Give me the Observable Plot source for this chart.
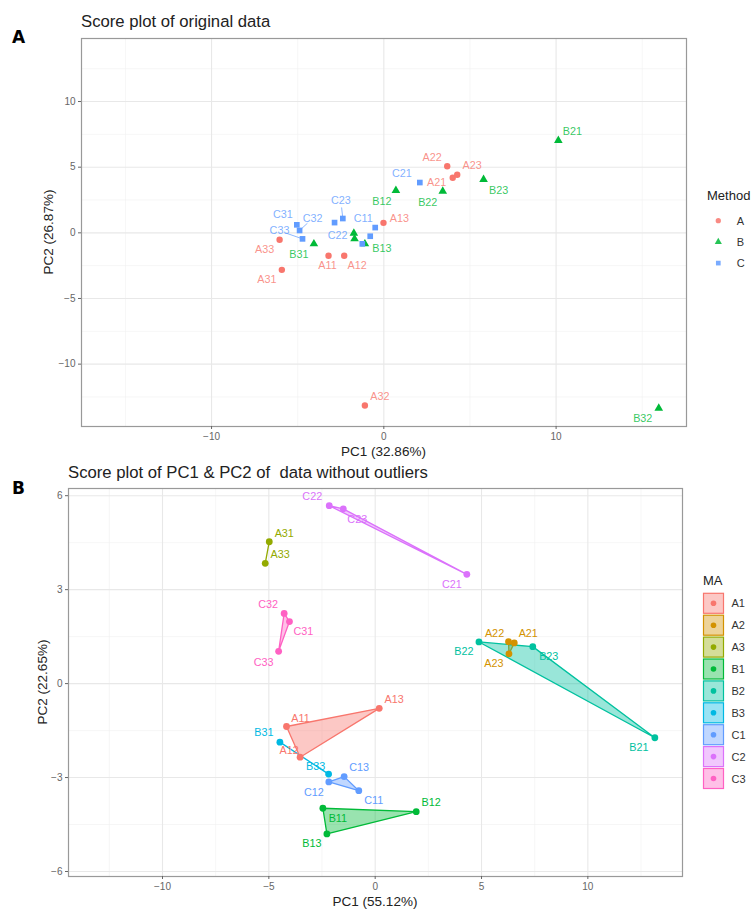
<!DOCTYPE html>
<html><head><meta charset="utf-8">
<script src="https://cdn.jsdelivr.net/npm/d3@7"></script>
<script src="https://cdn.jsdelivr.net/npm/@observablehq/plot@0.6"></script>
<style>
body{margin:0;background:#fff;}
#root{position:relative;width:755px;height:910px;overflow:hidden;background:#fff;}
#root > svg{position:absolute;left:0;}
</style></head><body><div id="root"></div>
<script>
// ---------- Panel A data (original data) ----------
const namesA = ["A11","A12","A13","A21","A22","A23","A31","A32","A33",
                "B11","B12","B13","B21","B22","B23","B31","B32","B33",
                "C11","C12","C13","C21","C22","C23","C31","C32","C33"];
const pc1A = [-3.21,-2.30,-0.02, 4.00, 3.68, 4.26,-5.92,-1.10,-6.05,
              -1.74, 0.70,-1.10,10.13, 3.42, 5.79,-4.06,15.96,-1.70,
              -0.50,-0.79,-1.25, 2.09,-2.86,-2.38,-5.05,-4.89,-4.72];
const pc2A = [-1.75,-1.75, 0.76, 4.19, 5.07, 4.42,-2.82,-13.15,-0.53,
              -0.03, 3.22,-0.84, 7.03, 3.17, 4.06,-0.84,-13.36,-0.46,
               0.40,-0.26,-0.84, 3.83, 0.78, 1.09, 0.61, 0.18,-0.46];
const methods = ["A","B","C"];
const methodColors = ["#F8766D","#00BA38","#619CFF"];
const methodSymbols = ["circle","triangle","square"];
const majorXA = [-10,0,10], minorXA = [-15,-5,5,15];
const majorYA = [-10,-5,0,5,10], minorYA = [-12.5,-7.5,-2.5,2.5,7.5,12.5];

// ---------- Panel B data (without outliers) ----------
const namesB = ["A11","A12","A13","A21","A22","A23","A31","A33",
                "B11","B12","B13","B21","B22","B23","B31","B33",
                "C11","C12","C13","C21","C22","C23","C31","C32","C33"];
const pc1B = [-4.17,-3.53, 0.19, 6.54, 6.27, 6.29,-4.98,-5.17,
              -2.46, 1.93,-2.27,13.15, 4.88, 7.41,-4.48,-2.19,
              -0.77,-2.18,-1.46, 4.31,-2.16,-1.50,-4.03,-4.28,-4.54];
const pc2B = [-1.37,-2.35,-0.79, 1.30, 1.34, 0.95, 4.53, 3.84,
              -3.98,-4.09,-4.80,-1.73, 1.33, 1.18,-1.87,-2.89,
              -3.42,-3.14,-2.97, 3.49, 5.68, 5.58, 1.98, 2.24, 1.03];
const maGroups = ["A1","A2","A3","B1","B2","B3","C1","C2","C3"];
const maColors = ["#F8766D","#D39200","#93AA00","#00BA38","#00C19F","#00B9E3","#619CFF","#DB72FB","#FF61C3"];
const majorXB = [-10,-5,0,5,10], minorXB = [-12.5,-7.5,-2.5,2.5,7.5,12.5];
const majorYB = [-6,-3,0,3,6], minorYB = [-4.5,-1.5,1.5,4.5];

// ---------- label placement (pixel nudges, like ggrepel) ----------
const nudgeA = {A11:[-1,10],A12:[13,10],A13:[16,-4],A21:[-16,5],A22:[-15,-9],A23:[15,-9],
  A31:[-15,10],A32:[15,-9],A33:[-15,10],B12:[-14,11],B13:[17,5],B21:[14,-9],B22:[-15,11],
  B23:[15,11],B31:[-15,11],B32:[-16,10],C11:[-12,-9],C21:[-18,-9],C22:[3,13],C23:[-2,-18],
  C31:[-14,-10],C32:[13,-12],C33:[-23,-8]};
const connectA = ["C23","C32","C33"];
const nudgeB = {A11:[14,-8],A12:[-11,-7],A13:[15,-9],A21:[14,-9],A22:[-14,-8],A23:[-15,10],
  A31:[15,-8],A33:[15,-9],B11:[15,10],B12:[15,-9],B13:[-15,10],B21:[-16,10],B22:[-15,10],
  B23:[16,10],B31:[-16,-10],B33:[-13,-8],C11:[15,10],C12:[-15,11],C13:[15,-9],C21:[-15,10],
  C22:[-17,-9],C23:[14,11],C31:[14,10],C32:[-16,-9],C33:[-15,11]};

const FONT = '"Liberation Sans", Arial, Helvetica, sans-serif';
const root = document.getElementById("root");
const gridStyle = (w,c)=>({stroke:c, strokeOpacity:1, strokeWidth:w});

// ---------- Panel A ----------
const xDomA=[-17.55,17.57], yDomA=[-14.75,14.8];
const WA=755, mLA=81, mRA=69, mTA=38, mBA=14, HA=440;
const kxA=(WA-mLA-mRA)/(xDomA[1]-xDomA[0]);
const kyA=(HA-mTA-mBA)/(yDomA[1]-yDomA[0]);
const dataA = namesA.map((n,i)=>({name:n, method:n[0], x:pc1A[i], y:pc2A[i]}));
const labA = dataA.filter(d=>nudgeA[d.name]).map(d=>{
  const [dx,dy]=nudgeA[d.name];
  const len=Math.hypot(dx,dy), f=Math.max(0,(len-7)/len);
  return {...d, lx:d.x+dx/kxA, ly:d.y-dy/kyA, cx:d.x+dx*f/kxA, cy:d.y-dy*f/kyA};
});
const linksA = labA.filter(d=>connectA.includes(d.name));

const plotA = Plot.plot({
  width:WA, height:HA, marginLeft:mLA, marginRight:mRA, marginTop:mTA, marginBottom:mBA,
  style:{background:"transparent", fontFamily:FONT, fontSize:"10px", overflow:"visible"},
  x:{domain:xDomA}, y:{domain:yDomA},
  color:{domain:methods, range:methodColors},
  symbol:{domain:methods, range:methodSymbols},
  marks:[
    Plot.gridX(minorXA, gridStyle(0.6,"#f0f0f0")),
    Plot.gridY(minorYA, gridStyle(0.6,"#f0f0f0")),
    Plot.gridX(majorXA, gridStyle(1.1,"#e8e8e8")),
    Plot.gridY(majorYA, gridStyle(1.1,"#e8e8e8")),
    Plot.frame({stroke:"#999", strokeWidth:1.2}),
    Plot.axisX(majorXA,{label:null, tickSize:3, tickPadding:3, color:"#666", fontSize:10}),
    Plot.axisY(majorYA,{label:null, tickSize:3, tickPadding:3, color:"#666", fontSize:10}),
    Plot.link(linksA,{x1:"x",y1:"y",x2:"cx",y2:"cy",stroke:"method",strokeWidth:0.9,strokeOpacity:0.8}),
    Plot.dot(dataA,{x:"x",y:"y",fill:"method",symbol:"method",r:3.2}),
    Plot.text(labA,{x:"lx",y:"ly",text:"name",fill:"method",fillOpacity:0.8,fontSize:10.8})
  ]
});
plotA.style.top="0px";
root.appendChild(plotA);

// ---------- Panel B ----------
const xDomB=[-14.42,14.45], yDomB=[-6.16,6.23];
const WB=755, mLB=68, mRB=73, mTB=48, mBB=34, HB=470;
const kxB=(WB-mLB-mRB)/(xDomB[1]-xDomB[0]);
const kyB=(HB-mTB-mBB)/(yDomB[1]-yDomB[0]);
const dataB = namesB.map((n,i)=>({name:n, ma:n.slice(0,2), x:pc1B[i], y:pc2B[i]}));
const labB = dataB.filter(d=>nudgeB[d.name]).map(d=>{
  const [dx,dy]=nudgeB[d.name];
  return {...d, lx:d.x+dx/kxB, ly:d.y-dy/kyB};
});
const plotB = Plot.plot({
  width:WB, height:HB, marginLeft:mLB, marginRight:mRB, marginTop:mTB, marginBottom:mBB,
  style:{background:"transparent", fontFamily:FONT, fontSize:"10px", overflow:"visible"},
  x:{domain:xDomB}, y:{domain:yDomB},
  color:{domain:maGroups, range:maColors},
  marks:[
    Plot.gridX(minorXB, gridStyle(0.6,"#f0f0f0")),
    Plot.gridY(minorYB, gridStyle(0.6,"#f0f0f0")),
    Plot.gridX(majorXB, gridStyle(1.1,"#e8e8e8")),
    Plot.gridY(majorYB, gridStyle(1.1,"#e8e8e8")),
    Plot.frame({stroke:"#999", strokeWidth:1.2}),
    Plot.axisX(majorXB,{label:null, tickSize:3, tickPadding:3, color:"#666", fontSize:10}),
    Plot.axisY(majorYB,{label:null, tickSize:3, tickPadding:3, color:"#666", fontSize:10}),
    Plot.hull(dataB,{x:"x",y:"y",fill:"ma",stroke:"ma",fillOpacity:0.4,strokeWidth:1.3}),
    Plot.dot(dataB,{x:"x",y:"y",fill:"ma",r:3.4}),
    Plot.text(labB,{x:"lx",y:"ly",text:"name",fill:"ma",fontSize:10.8})
  ]
});
plotB.style.top="440px";
root.appendChild(plotB);

// ---------- Annotations: titles, axis titles, legends ----------
const ov = d3.create("svg").attr("width",755).attr("height",910)
  .style("position","absolute").style("top","0px").style("left","0px")
  .style("font-family",FONT);
const txt=(x,y,s,o={})=>{
  const t=ov.append("text").attr("x",x).attr("y",y).text(s)
    .attr("font-size",o.size||13).attr("fill",o.fill||"#222")
    .attr("text-anchor",o.anchor||"start");
  if(o.bold) t.attr("font-weight","bold");
  if(o.family) t.attr("font-family",o.family);
  if(o.rotate) t.attr("transform",`rotate(-90,${x},${y})`);
  return t;
};
// Panel A
txt(12,42.5,"A",{size:17,bold:true,family:'"DejaVu Sans", sans-serif',fill:"#000"});
txt(81,26.7,"Score plot of original data",{size:16.7});
txt(383.5,456,"PC1 (32.86%)",{size:13.5,anchor:"middle"});
txt(53,232,"PC2 (26.87%)",{size:13.5,anchor:"middle",rotate:true});
// Panel B
txt(12,494,"B",{size:17,bold:true,family:'"DejaVu Sans", sans-serif',fill:"#000"});
txt(68,477.5,"Score plot of PC1 & PC2 of \u00a0data without outliers",{size:16.7});
txt(375,905.5,"PC1 (55.12%)",{size:13.5,anchor:"middle"});
txt(46.5,682,"PC2 (22.65%)",{size:13.5,anchor:"middle",rotate:true});

// Method legend (panel A)
txt(707,200,"Method",{size:13});
methods.forEach((m,i)=>{
  const cy=220.7+i*21.2;
  ov.append("path").attr("d",d3.symbol(d3[{circle:"symbolCircle",triangle:"symbolTriangle",square:"symbolSquare"}[methodSymbols[i]]],22)())
    .attr("transform",`translate(718.3,${cy})`).attr("fill",methodColors[i]).attr("fill-opacity",0.85);
  txt(736.7,cy+4,m,{size:11,fill:"#333"});
});
// MA legend (panel B)
txt(703,585,"MA",{size:13});
maGroups.forEach((g,i)=>{
  const cy=603.3+i*21.9;
  ov.append("rect").attr("x",703.5).attr("y",cy-10).attr("width",20).attr("height",20)
    .attr("fill",maColors[i]).attr("fill-opacity",0.4).attr("stroke",maColors[i]).attr("stroke-width",1.2);
  ov.append("circle").attr("cx",713.5).attr("cy",cy).attr("r",2.8).attr("fill",maColors[i]);
  txt(731.5,cy+4,g,{size:11,fill:"#333"});
});
root.appendChild(ov.node());
</script></body></html>
